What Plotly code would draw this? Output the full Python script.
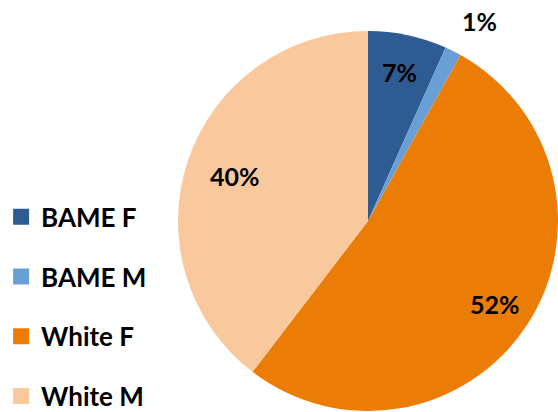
import math
import plotly.graph_objects as go

categories = ["BAME F", "BAME M", "White F", "White M"]
values = [6.7, 1.4, 52.3, 39.6]
colors = ["#2E5C92", "#6A9FD6", "#EB7D07", "#F9C99D"]
# label placement: radial distance (fraction of radius) and anchoring
label_radius = [0.80, 1.08, 0.80, 0.74]
label_xanchor = ["center", "left", "center", "center"]
label_yanchor = ["middle", "bottom", "middle", "middle"]

W, H = 558, 412
CX, CY, R = 368, 221, 190  # pie centre / radius in px

fig = go.Figure()
fig.add_trace(go.Pie(
    labels=categories, values=values, sort=False, direction="clockwise", rotation=0,
    marker=dict(colors=colors, line=dict(width=0)),
    textinfo="none",
    domain=dict(x=[(CX - R) / W, min(1, (CX + R) / W)],
                y=[max(0, (H - CY - R) / H), (H - CY + R) / H]),
    showlegend=False, hoverinfo="label+percent",
))

total = sum(values)
cum = 0.0
for v, k, xa, ya in zip(values, label_radius, label_xanchor, label_yanchor):
    mid = (cum + v / 2) / total * 2 * math.pi
    cum += v
    x = CX + k * R * math.sin(mid)
    y = CY - k * R * math.cos(mid)
    fig.add_annotation(
        x=x / W, y=1 - y / H, xref="paper", yref="paper", showarrow=False,
        text=f"{round(100 * v / total)}%",
        font=dict(family="Lato", size=25, color="black", weight="bold"),
        xanchor=xa, yanchor=ya,
    )

for c, col in zip(categories, colors):
    fig.add_trace(go.Scatter(
        x=[None], y=[None], mode="markers", name=c, legendgroup=c,
        marker=dict(symbol="square", size=16, color=col),
    ))

fig.update_layout(
    width=W, height=H, margin=dict(l=0, r=0, t=0, b=0, autoexpand=False),
    paper_bgcolor="white", plot_bgcolor="white",
    xaxis=dict(visible=False), yaxis=dict(visible=False),
    legend=dict(x=0.002, y=0.531, xanchor="left", yanchor="top", tracegroupgap=23,
                font=dict(family="Lato", size=26, color="black", weight="bold"),
                bgcolor="rgba(0,0,0,0)"),
)
fig.write_html("out.html")
